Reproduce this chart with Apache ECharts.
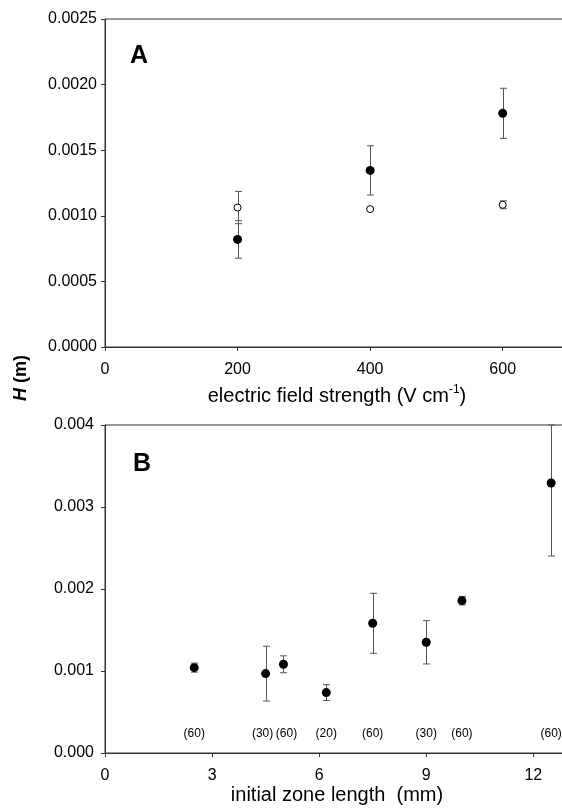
<!DOCTYPE html>
<html>
<head>
<meta charset="utf-8">
<script src="https://cdn.jsdelivr.net/npm/echarts@6/dist/echarts.min.js"></script>
<style>
  html, body { margin: 0; padding: 0; background: #fff; }
  #chart { width: 562px; height: 808px; }
</style>
</head>
<body>
<div id="chart"></div>
<script>
// panel A: H vs electric field strength
const fieldX = [200, 400, 600];
const filledH = [0.00082, 0.001346, 0.001781];
const filledErr = [0.000143, 0.000188, 0.000191];
const openH = [0.001063, 0.001051, 0.001084];
const openErr = [0.000123, 0.00001, 0.00003];

// panel B: H vs initial zone length
const zoneX = [2.5, 4.5, 5, 6.2, 7.5, 9, 10, 12.5];
const zoneH = [0.001041, 0.000968, 0.001082, 0.000737, 0.001582, 0.00135, 0.001858, 0.003293];
const zoneErr = [0.000055, 0.000334, 0.000103, 0.000096, 0.000366, 0.000264, 0.000051, 0.00089];
const zoneN = ['(60)', '(30)', '(60)', '(20)', '(60)', '(30)', '(60)', '(60)'];
const nLabelY = 0.00024;

const FONT = 'Liberation Sans, Arial, sans-serif';
const AXIS = '#333';

function errData(xs, ys, es) {
  return xs.map((x, i) => [x, ys[i] - es[i], ys[i] + es[i]]);
}

function renderErr(params, api) {
  const cs = params.coordSys;
  const lo = api.coord([api.value(0), api.value(1)]);
  const hi = api.coord([api.value(0), api.value(2)]);
  const top = Math.max(hi[1], cs.y);
  const x = Math.round(lo[0]) + 0.5;
  const w = 3.5;
  const style = { stroke: '#555', lineWidth: 1 };
  return {
    type: 'group',
    children: [
      { type: 'line', shape: { x1: x, y1: lo[1], x2: x, y2: top }, style },
      { type: 'line', shape: { x1: x - w, y1: lo[1], x2: x + w, y2: lo[1] }, style },
      { type: 'line', shape: { x1: x - w, y1: top, x2: x + w, y2: top }, style }
    ]
  };
}

// the (30) and (60) counts at 4.5 and 5 mm sit a little apart so they do not touch
function countStyle(i) {
  if (zoneX[i + 1] !== undefined && zoneX[i + 1] - zoneX[i] < 1) return 'l';
  if (i > 0 && zoneX[i] - zoneX[i - 1] < 1) return 'r';
  return 'c';
}

const chart = echarts.init(document.getElementById('chart'));

const axisCommon = {
  axisLine: { show: true, lineStyle: { color: AXIS, width: 1 } },
  axisTick: { show: true, inside: false, length: 4, lineStyle: { color: AXIS } },
  splitLine: { show: false },
  axisLabel: { color: '#000', fontFamily: FONT, fontSize: 16 }
};

const countText = { color: '#000', fontFamily: FONT, fontSize: 12 };

chart.setOption({
  animation: false,
  backgroundColor: '#fff',
  grid: [
    { left: 105, top: 19, width: 464, height: 328, show: true, borderColor: AXIS, borderWidth: 1, outerBoundsMode: 'none', containLabel: false },
    { left: 105, top: 425, width: 464, height: 328, show: true, borderColor: AXIS, borderWidth: 1, outerBoundsMode: 'none', containLabel: false }
  ],
  xAxis: [
    Object.assign({}, axisCommon, {
      gridIndex: 0, type: 'value', min: 0, max: 700, interval: 200,
      axisLabel: Object.assign({}, axisCommon.axisLabel, { margin: 15, showMaxLabel: false }),
      name: 'electric field strength (V cm{sup|-1})',
      nameLocation: 'middle', nameGap: 37,
      nameTextStyle: {
        color: '#000', fontFamily: FONT, fontSize: 20, lineHeight: 24,
        rich: { sup: { fontSize: 12, fontFamily: FONT, color: '#000', verticalAlign: 'top', lineHeight: 24, padding: [0, 0, 9, 0] } }
      }
    }),
    Object.assign({}, axisCommon, {
      gridIndex: 1, type: 'value', min: 0, max: 13, interval: 3,
      axisLabel: Object.assign({}, axisCommon.axisLabel, { margin: 15, showMaxLabel: false }),
      name: 'initial zone length  (mm)',
      nameLocation: 'middle', nameGap: 32,
      nameTextStyle: { color: '#000', fontFamily: FONT, fontSize: 20 }
    })
  ],
  yAxis: [
    Object.assign({}, axisCommon, {
      gridIndex: 0, type: 'value', min: 0, max: 0.0025, interval: 0.0005,
      axisLabel: Object.assign({}, axisCommon.axisLabel, { margin: 8, formatter: v => v.toFixed(4) })
    }),
    Object.assign({}, axisCommon, {
      gridIndex: 1, type: 'value', min: 0, max: 0.004, interval: 0.001,
      axisLabel: Object.assign({}, axisCommon.axisLabel, { margin: 11, formatter: v => v.toFixed(3) })
    })
  ],
  graphic: [
    {
      type: 'text', left: 130, top: 44,
      style: { text: 'A', font: 'bold 25px ' + FONT, fill: '#000' }
    },
    {
      type: 'text', left: 133, top: 452,
      style: { text: 'B', font: 'bold 25px ' + FONT, fill: '#000' }
    },
    {
      type: 'text', x: 21, y: 378, rotation: Math.PI / 2,
      style: {
        text: '{i|H} (m)', font: 'bold 18px ' + FONT, fill: '#000',
        align: 'center', verticalAlign: 'middle',
        rich: { i: { fontStyle: 'italic', fontWeight: 'bold', fontSize: 18, fontFamily: FONT } }
      }
    }
  ],
  series: [
    {
      type: 'custom', xAxisIndex: 0, yAxisIndex: 0, z: 1,
      renderItem: renderErr, data: errData(fieldX, filledH, filledErr)
    },
    {
      type: 'custom', xAxisIndex: 0, yAxisIndex: 0, z: 1,
      renderItem: renderErr, data: errData(fieldX, openH, openErr)
    },
    {
      type: 'scatter', xAxisIndex: 0, yAxisIndex: 0, z: 3,
      symbol: 'circle', symbolSize: 9,
      itemStyle: { color: '#000', opacity: 1 },
      data: fieldX.map((x, i) => [x, filledH[i]])
    },
    {
      type: 'scatter', xAxisIndex: 0, yAxisIndex: 0, z: 3,
      symbol: 'circle', symbolSize: 7,
      itemStyle: { color: '#fff', borderColor: '#000', borderWidth: 1, opacity: 1 },
      data: fieldX.map((x, i) => [x, openH[i]])
    },
    {
      type: 'custom', xAxisIndex: 1, yAxisIndex: 1, z: 1,
      renderItem: renderErr, data: errData(zoneX, zoneH, zoneErr)
    },
    {
      type: 'scatter', xAxisIndex: 1, yAxisIndex: 1, z: 3,
      symbol: 'circle', symbolSize: 9,
      itemStyle: { color: '#000', opacity: 1 },
      data: zoneX.map((x, i) => [x, zoneH[i]])
    },
    {
      type: 'scatter', xAxisIndex: 1, yAxisIndex: 1, z: 3,
      symbol: 'circle', symbolSize: 1,
      itemStyle: { color: 'rgba(0,0,0,0)', opacity: 1 },
      label: {
        show: true, position: 'inside', color: '#000', fontFamily: FONT, fontSize: 12,
        formatter: p => '{' + countStyle(p.dataIndex) + '|' + zoneN[p.dataIndex] + '}',
        rich: {
          c: countText,
          l: Object.assign({ padding: [0, 6, 0, 0] }, countText),
          r: Object.assign({ padding: [0, 0, 0, 6] }, countText)
        }
      },
      labelLayout: { hideOverlap: false },
      data: zoneX.map(x => [x, nLabelY])
    }
  ]
});
</script>
</body>
</html>
